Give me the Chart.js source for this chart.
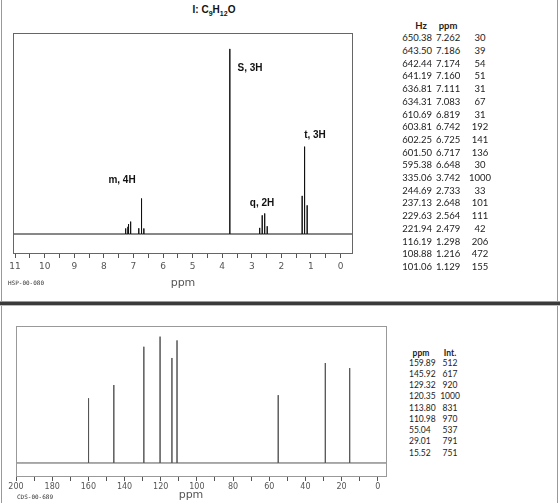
<!DOCTYPE html>
<html>
<head>
<meta charset="utf-8">
<script src="https://cdn.jsdelivr.net/npm/chart.js@4.4.1/dist/chart.umd.min.js"></script>
<style>
	body { margin: 0; background: #fff; }
	#page { position: relative; width: 560px; height: 503px; overflow: hidden; background: #fff; font-family: 'Liberation Sans', Arial, sans-serif; }
	canvas { position: absolute; }
	.txt { position: absolute; white-space: nowrap; line-height: 1; }
	.lbl { font-weight: bold; font-size: 10px; color: #111; transform: translate(-50%, -50%); }
	.axis-title { font-family: 'DejaVu Sans', sans-serif; font-size: 11px; color: #555; transform: translate(-50%, -50%); }
	.code { font-family: 'DejaVu Sans Mono', monospace; font-size: 6px; color: #333; transform: translate(-50%, -50%); }
	.tbl { position: absolute; font-family: Lato, 'Open Sans', sans-serif; font-size: 9.5px; color: #222; }
	.tbl.small { font-size: 8.5px; }
	.tbl div { position: absolute; white-space: nowrap; transform: translateY(-50%); line-height: 1; }
	.frame-v { position: absolute; top: 0; width: 1px; height: 503px; background: #999; }
	.sep { position: absolute; left: 0; top: 301px; width: 560px; height: 5px; background: #3a3a3a; border-top: 1px solid #999; border-bottom: 1px solid #bbb; box-sizing: border-box; }
</style>
</head>
<body>
<div id="page">
	<div class="frame-v" style="left:1px"></div>
	<div class="frame-v" style="left:557px"></div>
	<div class="sep"></div>

	<div class="txt lbl" style="left:214px; top:11px;">I: C<sub style="font-size:7px">9</sub>H<sub style="font-size:7px">12</sub>O</div>

	<canvas id="protonChart" width="370" height="300" style="left:0; top:0;"></canvas>
	<canvas id="carbonChart" width="400" height="197" style="left:0; top:306px;"></canvas>

	<div class="txt lbl" style="left:250px; top:68px;">S, 3H</div>
	<div class="txt lbl" style="left:315px; top:135px;">t, 3H</div>
	<div class="txt lbl" style="left:122px; top:180px;">m, 4H</div>
	<div class="txt lbl" style="left:262px; top:203px;">q, 2H</div>

	<div class="txt axis-title" style="left:183px; top:282px;">ppm</div>
	<div class="txt code" style="left:26px; top:283px;">HSP-00-080</div>
	<div class="txt axis-title" style="left:191px; top:494px;">ppm</div>
	<div class="txt code" style="left:35px; top:497px;">CDS-00-689</div>

	<div id="protonTable" class="tbl" style="left:0; top:0;"></div>
	<div id="carbonTable" class="tbl small" style="left:0; top:0;"></div>
</div>

<script>
// 1H peak list (Hz, ppm, intensity)
const protonHz = [650.38, 643.50, 642.44, 641.19, 636.81, 634.31, 610.69, 603.81, 602.25, 601.50, 595.38, 335.06, 244.69, 237.13, 229.63, 221.94, 116.19, 108.88, 101.06];
const protonPpm = [7.262, 7.186, 7.174, 7.160, 7.111, 7.083, 6.819, 6.742, 6.725, 6.717, 6.648, 3.742, 2.733, 2.648, 2.564, 2.479, 1.298, 1.216, 1.129];
const protonInt = [30, 39, 54, 51, 31, 67, 31, 192, 141, 136, 30, 1000, 33, 101, 111, 42, 206, 472, 155];

// 13C peak list (ppm, intensity)
const carbonPpm = [159.89, 145.92, 129.32, 120.35, 113.80, 110.98, 55.04, 29.01, 15.52];
const carbonInt = [512, 617, 920, 1000, 831, 970, 537, 791, 751];

// tick positions
const protonTicks = [11, 10.5, 10, 9.5, 9, 8.5, 8, 7.5, 7, 6.5, 6, 5.5, 5, 4.5, 4, 3.5, 3, 2.5, 2, 1.5, 1, 0.5, 0];
const protonLabels = [11, 10, 9, 8, 7, 6, 5, 4, 3, 2, 1, 0];
const carbonTicks = [200, 190, 180, 170, 160, 150, 140, 130, 120, 110, 100, 90, 80, 70, 60, 50, 40, 30, 20, 10, 0];
const carbonLabels = [200, 180, 160, 140, 120, 100, 80, 60, 40, 20, 0];

const protonRange = { min: -0.42, max: 11.07 };
const carbonRange = { min: -5.1, max: 200 };

function stickSpectrum(ppm, intensity, range) {
	const pts = [{ x: range.max, y: 0 }];
	ppm.forEach((p, i) => {
		pts.push({ x: p, y: 0 }, { x: p, y: intensity[i] }, { x: p, y: 0 });
	});
	pts.push({ x: range.min, y: 0 });
	return pts;
}

const boxPlugin = {
	id: 'box',
	afterDraw(chart, args, opts) {
		const a = chart.chartArea;
		const ctx = chart.ctx;
		ctx.save();
		ctx.strokeStyle = opts.color;
		ctx.lineWidth = 1;
		ctx.strokeRect(a.left + 0.5, a.top + 0.5, a.right - a.left - 1, a.bottom - a.top - 1);
		ctx.restore();
	}
};

function buildSpectrum(canvasId, data, range, ticks, labels, yMin, yMax, pad, axisHeight, lineColor, boxColor, tickFont, tickPad) {
	const ctx = document.getElementById(canvasId).getContext('2d');
	return new Chart(ctx, {
		type: 'scatter',
		data: {
			datasets: [{
				data: data,
				showLine: true,
				borderColor: lineColor,
				borderWidth: 1,
				pointRadius: 0,
				tension: 0
			}]
		},
		options: {
			responsive: false,
			animation: false,
			devicePixelRatio: 1,
			layout: { padding: pad },
			plugins: {
				legend: { display: false },
				tooltip: { enabled: false },
				box: { color: boxColor }
			},
			scales: {
				x: {
					type: 'linear',
					reverse: true,
					min: range.min,
					max: range.max,
					afterBuildTicks: scale => {
						scale.ticks = ticks.map(v => ({ value: v }));
					},
					afterFit: scale => {
						scale.height = axisHeight;
					},
					ticks: {
						autoSkip: false,
						maxRotation: 0,
						padding: tickPad,
						color: '#555',
						font: { family: 'DejaVu Sans', size: tickFont },
						callback: v => labels.includes(v) ? String(v) : ''
					},
					grid: {
						drawOnChartArea: false,
						drawTicks: true,
						tickLength: 4,
						color: '#555'
					},
					border: { display: false }
				},
				y: {
					display: false,
					min: yMin,
					max: yMax
				}
			}
		},
		plugins: [boxPlugin]
	});
}

buildSpectrum('protonChart', stickSpectrum(protonPpm, protonInt, protonRange), protonRange,
	protonTicks, protonLabels, -108, 1086, { left: 13, top: 33, right: 17, bottom: 0 }, 46, '#111', '#666', 9, 3);

buildSpectrum('carbonChart', stickSpectrum(carbonPpm, carbonInt, carbonRange), carbonRange,
	carbonTicks, carbonLabels, -111, 1084, { left: 16, top: 20, right: 13, bottom: 0 }, 26, '#555', '#999', 8, 1);

// peak tables
function addCell(parent, text, x, y, align, bold) {
	const d = document.createElement('div');
	d.textContent = text;
	d.style.top = y + 'px';
	if (align === 'right') {
		d.style.right = (560 - x) + 'px';
	} else if (align === 'center') {
		d.style.left = x + 'px';
		d.style.transform = 'translate(-50%, -50%)';
	} else {
		d.style.left = x + 'px';
	}
	if (bold) d.style.fontWeight = 'bold';
	parent.appendChild(d);
}

const pt = document.getElementById('protonTable');
pt.style.width = '560px';
addCell(pt, 'Hz', 421, 26, 'center', true);
addCell(pt, 'ppm', 448, 26, 'center', true);
protonHz.forEach((hz, i) => {
	const y = 38.3 + i * 12.7;
	addCell(pt, hz.toFixed(2), 432, y, 'right');
	addCell(pt, protonPpm[i].toFixed(3), 436, y, 'left');
	addCell(pt, String(protonInt[i]), 480, y, 'center');
});

const ct = document.getElementById('carbonTable');
ct.style.width = '560px';
addCell(ct, 'ppm', 421, 353, 'center', true);
addCell(ct, 'Int.', 450, 353, 'center', true);
carbonPpm.forEach((p, i) => {
	const y = 362.7 + i * 11.25;
	addCell(ct, p.toFixed(2), 409, y, 'left');
	addCell(ct, String(carbonInt[i]), 450, y, 'center');
});
</script>
</body>
</html>
